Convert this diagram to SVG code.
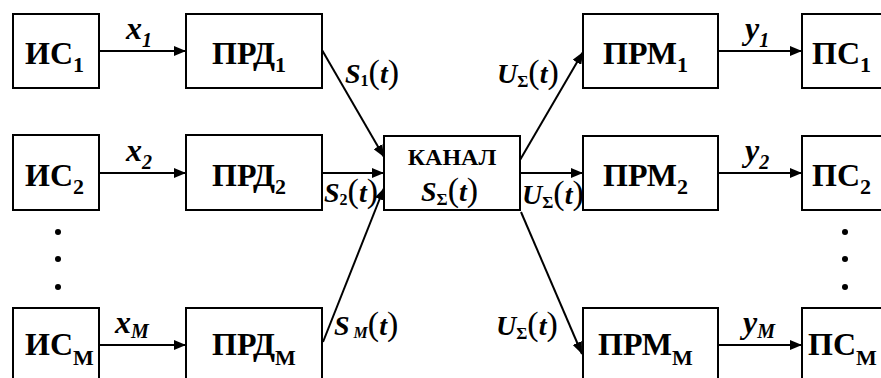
<svg xmlns="http://www.w3.org/2000/svg" width="881" height="378" viewBox="0 0 881 378" font-family="'Liberation Serif', 'DejaVu Serif', serif" font-weight="bold">
<style>
.box{fill:#fff;stroke:#000;stroke-width:2}
.c line{stroke:#000;stroke-width:2}
.dot{fill:#000}
</style>
<defs>
<marker id="ah" viewBox="0 0 12 10" refX="12" refY="5" markerWidth="12" markerHeight="10" markerUnits="userSpaceOnUse" orient="auto">
<path d="M0,0 L12,5 L0,10 Z" fill="#000"/>
</marker>
</defs>

<g class="c" id="connectors">
<line x1="99" y1="51" x2="186" y2="51" marker-end="url(#ah)"/>
<line x1="99" y1="173" x2="186" y2="173" marker-end="url(#ah)"/>
<line x1="99" y1="345" x2="186" y2="345" marker-end="url(#ah)"/>
<line x1="322" y1="50" x2="384" y2="157" marker-end="url(#ah)"/>
<line x1="322" y1="173" x2="384" y2="173" marker-end="url(#ah)"/>
<line x1="323" y1="342" x2="384" y2="188" marker-end="url(#ah)"/>
<line x1="520" y1="160" x2="583" y2="52" marker-end="url(#ah)"/>
<line x1="520" y1="173" x2="583" y2="173" marker-end="url(#ah)"/>
<line x1="521" y1="212" x2="582" y2="354" marker-end="url(#ah)"/>
<line x1="718" y1="51" x2="802" y2="51" marker-end="url(#ah)"/>
<line x1="718" y1="173" x2="802" y2="173" marker-end="url(#ah)"/>
<line x1="718" y1="345" x2="802" y2="345" marker-end="url(#ah)"/>
</g>

<g font-size="32">
<g id="is1"><rect class="box" x="13" y="14" width="86" height="74"/><text x="25" y="64">ИС<tspan font-size="22" dy="8">1</tspan></text></g>
<g id="is2"><rect class="box" x="13" y="135" width="86" height="75"/><text x="25" y="186">ИС<tspan font-size="22" dy="8">2</tspan></text></g>
<g id="ism"><rect class="box" x="13" y="308" width="86" height="80"/><text x="25" y="355">ИС<tspan font-size="22" dy="10">М</tspan></text></g>

<g id="prd1"><rect class="box" x="186" y="14" width="136" height="74"/><text x="212" y="64">ПРД<tspan font-size="22" dy="8">1</tspan></text></g>
<g id="prd2"><rect class="box" x="186" y="135" width="136" height="75"/><text x="212" y="186">ПРД<tspan font-size="22" dy="8">2</tspan></text></g>
<g id="prdm"><rect class="box" x="186" y="308" width="136" height="80"/><text x="212" y="355">ПРД<tspan font-size="22" dy="10">М</tspan></text></g>

<g id="prm1"><rect class="box" x="583" y="14" width="135" height="74"/><text x="603" y="64">ПРМ<tspan font-size="22" dy="8">1</tspan></text></g>
<g id="prm2"><rect class="box" x="583" y="136" width="135" height="74"/><text x="603" y="186">ПРМ<tspan font-size="22" dy="8">2</tspan></text></g>
<g id="prmm"><rect class="box" x="583" y="308" width="135" height="80"/><text x="598" y="355">ПРМ<tspan font-size="22" dy="10">М</tspan></text></g>

<g id="ps1"><rect class="box" x="802" y="14" width="90" height="74"/><text x="812" y="64">ПС<tspan font-size="22" dy="8">1</tspan></text></g>
<g id="ps2"><rect class="box" x="802" y="136" width="90" height="74"/><text x="812" y="186">ПС<tspan font-size="22" dy="8">2</tspan></text></g>
<g id="psm"><rect class="box" x="802" y="308" width="90" height="80"/><text x="808" y="355">ПС<tspan font-size="22" dy="10">М</tspan></text></g>
</g>

<g id="kanal"><rect class="box" x="384" y="136" width="136" height="74"/>
<text x="452" y="165" font-size="24" text-anchor="middle">КАНАЛ</text>
<text x="421" y="201" font-size="28" font-style="italic">S<tspan font-size="17" font-style="normal" dy="4">Σ</tspan><tspan font-size="34" font-style="normal" font-weight="normal" dy="-4">(</tspan>t<tspan font-size="34" font-style="normal" font-weight="normal">)</tspan></text>
</g>

<g id="dots">
<circle class="dot" cx="58" cy="232" r="3"/><circle class="dot" cx="58" cy="259" r="3"/><circle class="dot" cx="58" cy="287" r="3"/>
<circle class="dot" cx="845" cy="232" r="3"/><circle class="dot" cx="845" cy="259" r="3"/><circle class="dot" cx="845" cy="287" r="3"/>
</g>

<g id="labels" font-style="italic">
<g font-size="32">
<text x="126" y="39">x<tspan font-size="20" dy="8">1</tspan></text>
<text x="126" y="161">x<tspan font-size="20" dy="8">2</tspan></text>
<text x="115" y="333">x<tspan font-size="20" dy="5">M</tspan></text>
<text x="745" y="39">y<tspan font-size="20" dy="8">1</tspan></text>
<text x="745" y="161">y<tspan font-size="20" dy="8">2</tspan></text>
<text x="743" y="333">y<tspan font-size="20" dy="5">M</tspan></text>
</g>
<g font-size="28">
<text x="345" y="83">S<tspan font-size="16" font-style="normal" dy="3">1</tspan><tspan font-size="34" font-style="normal" font-weight="normal" dy="-3">(</tspan>t<tspan font-size="34" font-style="normal" font-weight="normal">)</tspan></text>
<text x="324" y="202">S<tspan font-size="16" font-style="normal" dy="3">2</tspan><tspan font-size="34" font-style="normal" font-weight="normal" dy="-3">(</tspan>t<tspan font-size="34" font-style="normal" font-weight="normal">)</tspan></text>
<text x="334" y="335">S<tspan font-size="16" dy="3"> M</tspan><tspan font-size="34" font-style="normal" font-weight="normal" dy="-3">(</tspan>t<tspan font-size="34" font-style="normal" font-weight="normal">)</tspan></text>
<text x="497" y="83">U<tspan font-size="17" font-style="normal" dy="4">Σ</tspan><tspan font-size="34" font-style="normal" font-weight="normal" dy="-4">(</tspan>t<tspan font-size="34" font-style="normal" font-weight="normal">)</tspan></text>
<text x="522" y="204">U<tspan font-size="17" font-style="normal" dy="4">Σ</tspan><tspan font-size="34" font-style="normal" font-weight="normal" dy="-4">(</tspan>t<tspan font-size="34" font-style="normal" font-weight="normal">)</tspan></text>
<text x="496" y="335">U<tspan font-size="17" font-style="normal" dy="4">Σ</tspan><tspan font-size="34" font-style="normal" font-weight="normal" dy="-4">(</tspan>t<tspan font-size="34" font-style="normal" font-weight="normal">)</tspan></text>
</g>
</g>
</svg>
